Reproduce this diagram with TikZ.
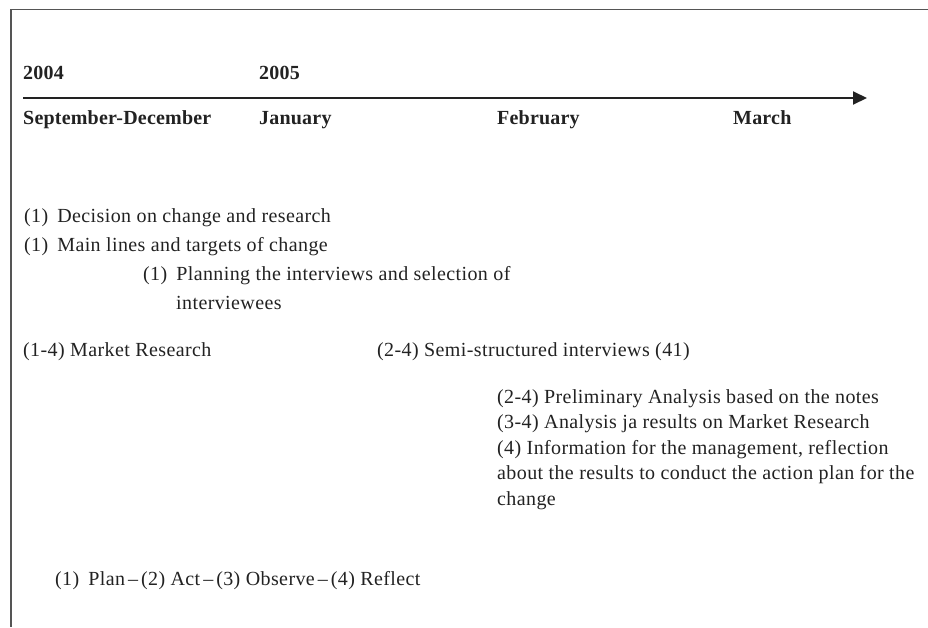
\documentclass[tikz,border=0pt]{standalone}
\usepackage{fontspec}
\setmainfont{Liberation Serif}
\newfontfamily\bodyfont[LetterSpace=2]{Liberation Serif}
\newfontfamily\headfont[LetterSpace=1]{Liberation Serif}
\usetikzlibrary{arrows.meta}
\definecolor{ink}{HTML}{222222}
\definecolor{frame}{HTML}{555555}
\newcommand{\sepdash}{\hspace{3pt}\textendash\hspace{3pt}}
\begin{document}
\begin{tikzpicture}[x=1pt,y=-1pt,
  txt/.style={anchor=base west,inner sep=0pt,text=ink,font=\bodyfont\fontsize{20}{24}\selectfont},
  hdr/.style={anchor=base west,inner sep=0pt,text=ink,font=\headfont\bfseries\fontsize{20}{24}\selectfont},
  framel/.style={draw=frame,line width=1.5pt},
  axis/.style={draw=ink,line width=2pt,-{Triangle[length=14pt,width=13pt]}}]
\useasboundingbox (0,0) rectangle (928,627);
% frame
\coordinate (ftr) at (928,9.5);
\coordinate (ftl) at (11,9.5);
\coordinate (fbl) at (11,627);
\draw[framel] (ftr) -- (ftl) -- (fbl);
% timeline
\coordinate (tlstart) at (23,98);
\coordinate (tlend) at (867,98);
\draw[axis] (tlstart) -- (tlend);
\node[hdr] (y2004) at (23,79) {2004};
\node[hdr] (y2005) at (259,79) {2005};
\node[hdr] (msep) at (23,124) {September-December};
\node[hdr] (mjan) at (259,124) {January};
\node[hdr] (mfeb) at (497,124) {February};
\node[hdr] (mmar) at (733,124) {March};
% items
\node[txt] (t1) at (24,222) {(1)\hspace{9pt}Decision on change and research};
\node[txt] (t2) at (24,251.5) {(1)\hspace{9pt}Main lines and targets of change};
\node[txt] (t3) at (143,280.5) {(1)\hspace{9pt}Planning the interviews and selection of};
\node[txt] (t3b) at (176,309) {interviewees};
\node[txt] (t4) at (23,356) {(1-4) Market Research};
\node[txt] (t5) at (377,356) {(2-4) Semi-structured interviews (41)};
\node[txt] (t6) at (497,403) {(2-4) Preliminary Analysis based on the notes};
\node[txt] (t7) at (497,428.5) {(3-4) Analysis ja results on Market Research};
\node[txt] (t8) at (497,454) {(4) Information for the management, reflection};
\node[txt] (t8b) at (497,479.5) {about the results to conduct the action plan for the};
\node[txt] (t8c) at (497,505) {change};
\node[txt] (t9) at (55,585) {(1)\hspace{9pt}Plan\sepdash(2) Act\sepdash(3) Observe\sepdash(4) Reflect};
\end{tikzpicture}
\end{document}
